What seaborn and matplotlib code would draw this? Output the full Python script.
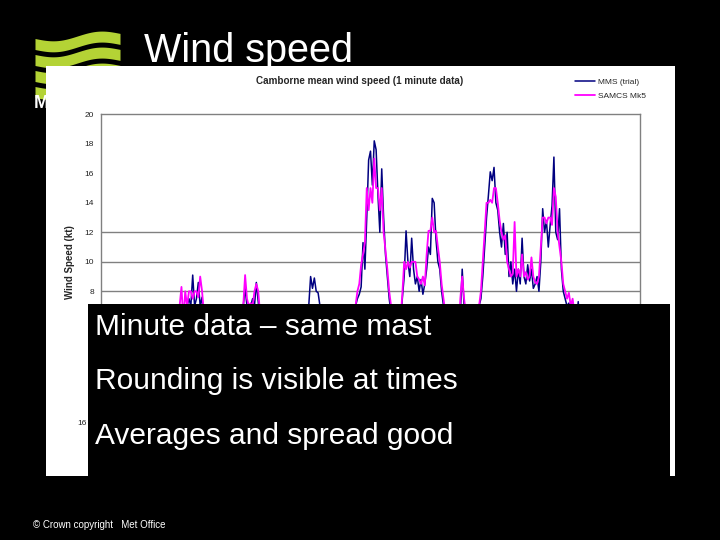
import numpy as np
import pandas as pd
import seaborn as sns
import matplotlib.pyplot as plt
from matplotlib.patches import Rectangle

# Camborne mean wind speed (kt), one value every 20 minutes, 16-20 Nov
mms_trial = [
    4, 5, 4, 3, 4, 5, 5, 4, 3, 4, 4, 5, 6, 5, 4, 4, 5, 5, 4, 3, 4, 5, 4, 4,
    4, 5, 5, 4, 5, 6, 5, 5, 6, 6, 5, 6, 6, 6, 5, 6, 6, 7, 6, 6, 7, 6, 7, 7.5,
    7, 9.1, 7, 7.5, 8.6, 7, 7.6, 6, 6, 5, 6, 5, 5, 6, 5, 6, 5, 6, 6, 5, 6, 7, 6, 6,
    6, 6, 7, 6, 7, 8.2, 7, 6.5, 7, 7.5, 7, 8.6, 7.3, 6, 6, 5, 6, 5, 5, 6, 5, 5, 6, 5,
    5, 6, 5, 6, 6, 5, 6, 6, 7, 6, 6, 7, 6, 6, 7, 7, 9.0, 8.2, 8.9, 8.0, 7.9, 7, 6, 6,
    6, 5, 6, 5, 6, 6, 5, 6, 5, 6, 6, 7, 6, 6, 7, 6, 7, 7.5, 7.8, 8.3, 11.3, 9.5, 13.0, 16.9,
    17.5, 15.2, 18.2, 17.6, 14.5, 12.0, 16.3, 13.0, 10.5, 9.0, 7.5, 6.5, 6, 5, 6, 5, 6, 7.5, 9.0, 12.1, 10.0, 9.0, 11.6, 9.5,
    8.5, 9.0, 8.0, 8.8, 7.8, 8.5, 9.5, 11.0, 10.5, 14.3, 14.0, 11.5, 10.0, 9.5, 8.0, 7.0, 6.0, 6, 5, 6, 6, 5, 6, 6,
    6.5, 9.5, 7.0, 6, 5, 6, 6, 5, 6, 6, 7, 7.5, 9.0, 11.0, 13.0, 14.5, 16.1, 15.5, 16.4, 14.0, 13.5, 12.0, 11.0, 12.6,
    10.5, 12.0, 9.0, 10.0, 8.5, 9.5, 8.0, 9.5, 8.5, 11.6, 9.0, 8.5, 9.8, 8.7, 9.5, 8.2, 8.5, 9.0, 8.0, 10.0, 13.6, 12.0, 12.8, 11.0,
    12.5, 13.8, 17.1, 12.0, 11.5, 13.6, 9.5, 8.0, 7.5, 7.0, 7.2, 6.5, 6.0, 6.5, 6.0, 7.3, 5, 5, 6, 5, 4, 5, 5, 4,
    4, 5, 4, 4, 3, 4, 5, 4, 4, 3, 4, 4, 5, 4, 3, 4, 4, 3, 4, 5, 4, 3, 4, 4,
]
samcs_mk5 = [
    3, 4, 4, 4, 5, 4, 5, 4, 4, 3, 4, 5, 5, 5, 4, 5, 4, 5, 4, 4, 3, 4, 5, 4,
    4, 4, 5, 5, 5, 5, 6, 5, 6, 5, 6, 6, 5, 6, 6, 6, 6, 6, 7, 8.3, 6, 8, 7, 8,
    8, 7.5, 8, 8, 7.6, 9.0, 8, 6.5, 6, 5, 5, 6, 5, 5, 6, 5, 6, 5, 6, 6, 6, 6, 7, 6,
    6, 6, 6, 7, 7, 9.1, 7.5, 7, 7.2, 7, 8, 8.5, 8, 6.5, 5, 6, 5, 5, 6, 5, 5, 6, 5, 6,
    5, 5, 6, 5, 6, 6, 5, 6, 6, 6, 7, 6, 6, 6, 6, 7, 6.5, 7, 6.8, 6.5, 6, 6, 5, 6,
    5, 6, 6, 5, 6, 5, 6, 5, 6, 6, 6, 6, 7, 6, 7, 7, 7, 8.0, 8.5, 9.8, 10.5, 11.3, 15.0, 13.5,
    15.0, 14.0, 17.0, 15.0, 15.0, 13.5, 15.0, 12.0, 10.8, 9.5, 8.0, 7.0, 6, 6, 5, 6, 6, 7.8, 10.0, 9.5, 10.0, 9.6, 10.0, 10.0,
    10.0, 9.0, 8.8, 8.5, 9.0, 8.4, 10.5, 12.1, 12.1, 13.0, 12.0, 12.1, 11.0, 10.0, 8.5, 7.5, 6.5, 5, 6, 6, 5, 6, 6, 5,
    7.5, 9.0, 7.5, 6.5, 6, 5, 6, 6, 6, 6, 7, 8, 10.0, 12.0, 14.0, 14.0, 14.2, 14.0, 15.0, 15.0, 14.0, 12.8, 12.0, 11.5,
    11.8, 10.0, 9.5, 9.0, 9.2, 12.7, 9.0, 9.5, 9.0, 10.5, 9.0, 9.3, 8.8, 9.0, 10.3, 9.0, 8.6, 8.5, 9.0, 11.0, 13.0, 13.0, 12.6, 13.0,
    13.0, 12.5, 15.0, 14.4, 12.0, 11.0, 10.0, 8.5, 8.0, 7.5, 7.9, 7.0, 7.5, 6.5, 6.0, 6.0, 5, 6, 5, 5, 5, 4, 5, 5,
    4, 4, 5, 4, 3, 4, 4, 5, 4, 4, 3, 4, 5, 4, 4, 3, 4, 5, 4, 4, 3, 4, 4, 4,
]
first_day = "16"   # only the start of the first date label shows past the text panel
y_ticks = [0, 2, 4, 6, 8, 10, 12, 14, 16, 18, 20]
bullets = ["Minute data \u2013 same mast", "Rounding is visible at times", "Averages and spread good"]

W, H = 720, 540
sns.set_style("white")
plt.rcParams['font.family'] = ['Liberation Sans', 'DejaVu Sans']

fig = plt.figure(figsize=(7.2, 5.4), dpi=100, facecolor='black')

# background layer in pixel coords: logo, title, white chart panel
bg = fig.add_axes([0, 0, 1, 1], zorder=0)
bg.set_xlim(0, W)
bg.set_ylim(H, 0)
bg.axis('off')
bg.set_facecolor('black')
xs = np.linspace(35, 120, 80)
for base in [44, 60, 76, 92]:
    mid = base - 0.06 * (xs - 35) + 3.5 * np.sin((xs - 35) / 85 * 2 * np.pi)
    bg.fill_between(xs, mid - 5.5, mid + 5.5, color='#b4d335', lw=0)
bg.text(34, 103, "M", color='white', fontsize=13, fontweight='bold', va='center')
bg.text(144, 51, "Wind speed", color='white', fontsize=28.5, va='center')
bg.text(33, 525, "\u00a9 Crown copyright   Met Office", color='white', fontsize=7, va='center')
bg.add_patch(Rectangle((46, 66), 629, 410, color='white', lw=0))

# chart
df = pd.DataFrame({
    'hours': np.arange(len(mms_trial)) / 3,
    'MMS (trial)': mms_trial,
    'SAMCS Mk5': samcs_mk5,
})
ax = fig.add_axes([101 / W, 1 - 409.3 / H, 539 / W, 295 / H], zorder=1)
ax.set_facecolor('white')
for lvl in [t for t in y_ticks if 0 < t <= 12]:
    ax.axhline(lvl, color='#808080', lw=1, zorder=0)
sns.lineplot(data=df, x='hours', y='MMS (trial)', ax=ax, color='#000080', lw=1.1, label='MMS (trial)')
sns.lineplot(data=df, x='hours', y='SAMCS Mk5', ax=ax, color='#ff00ff', lw=1.3, label='SAMCS Mk5')
ax.set_xlim(0, 96)
ax.set_ylim(0, 20)
ax.set_yticks(y_ticks)
ax.set_yticklabels([str(t) for t in y_ticks], fontsize=6, color='#222222')
ax.set_xticks([])
# first date label, mostly hidden behind the text panel
ax.annotate(first_day, xy=(0, 0), xycoords='data', xytext=(-10, -10), textcoords='offset points',
            ha='right', va='center', fontsize=6, color='#222222', annotation_clip=False)
ax.tick_params(axis='y', length=0, pad=5)
ax.set_xlabel('')
ax.set_ylabel('Wind Speed (kt)', fontsize=7, fontweight='bold', labelpad=7)
for s in ax.spines.values():
    s.set_color('#808080')
    s.set_linewidth(1)
ax.legend(loc='upper left', bbox_to_anchor=(471 / 539, 1.135), frameon=False,
          fontsize=6, handlelength=2.4, handletextpad=0.3, labelspacing=0.75, borderaxespad=0)
ax.set_title('Camborne mean wind speed (1 minute data)', fontsize=7.1, fontweight='bold',
             x=(360 - 101) / 539, pad=22)

# black text panel over the lower part of the chart
fg = fig.add_axes([0, 0, 1, 1], zorder=3)
fg.set_xlim(0, W)
fg.set_ylim(H, 0)
fg.axis('off')
fg.patch.set_alpha(0)
fg.add_patch(Rectangle((88, 304), 582, 172, color='black', lw=0))
for y, txt in zip([327, 381, 436], bullets):
    fg.text(95, y, txt, color='white', fontsize=21.5, va='center')

fig.savefig('out.png', dpi=100, facecolor='black')
